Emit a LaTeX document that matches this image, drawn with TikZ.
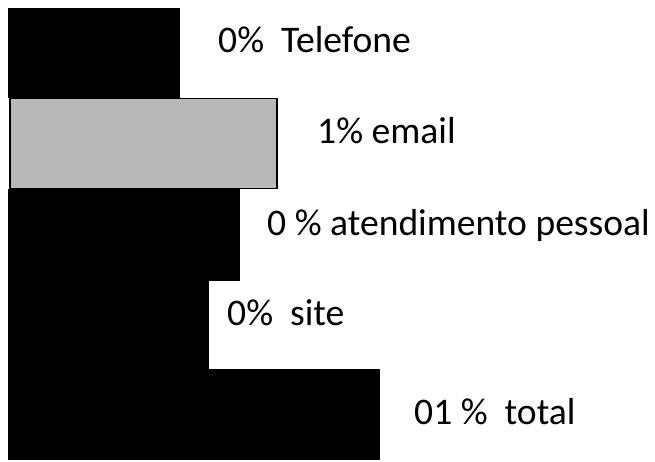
\documentclass[tikz,border=0pt]{standalone}
\usepackage{fontspec}
\setmainfont{Carlito}
\usetikzlibrary{positioning}

\begin{document}
\begin{tikzpicture}[x=1pt, y=-1pt,
                    bar node/.style={rectangle, fill=black, inner sep=0pt, outer sep=0pt, anchor=north west},
                    mail bar/.style={bar node, fill=black!28, draw=black, line width=1.2pt},
                    value node/.style={anchor=base west, inner sep=0pt, font=\fontsize{37.6}{44}\selectfont}]

  \useasboundingbox (0,0) rectangle (655,462);

  % bars
  \node[bar node, minimum width=172pt, minimum height=90pt] (telefone) at (8,8) {};
  \node[mail bar, minimum width=267pt, minimum height=90pt] (email) at (10,98.6) {};
  \node[bar node, minimum width=232pt, minimum height=92pt] (pessoal) at (8,189) {};
  \node[bar node, minimum width=201pt, minimum height=88pt] (site) at (8,281) {};
  \node[bar node, minimum width=372pt, minimum height=91pt] (total) at (8,369) {};

  % labels
  \node[value node] (telefone label) at (218,53) {0\%\ \ Telefone};
  \node[value node] (email label) at (317,144) {1\% email};
  \node[value node] (pessoal label) at (267,235) {0 \% atendimento pessoal};
  \node[value node] (site label) at (227,325) {0\%\ \ site};
  \node[value node] (total label) at (414,424) {01 \%\ \ total};

\end{tikzpicture}
\end{document}
